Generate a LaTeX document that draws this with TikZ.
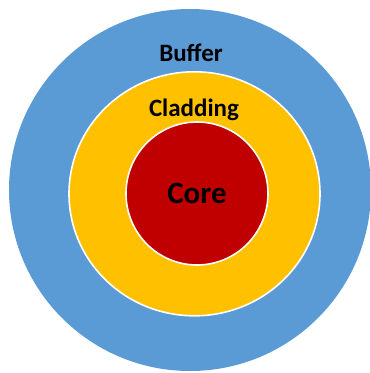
\documentclass[tikz,border=0pt]{standalone}
\usepackage{fontspec}
\setmainfont{Carlito}
\definecolor{bufblue}{HTML}{5B9BD5}
\definecolor{cladyel}{HTML}{FFC000}
\definecolor{corered}{HTML}{C00000}
\tikzset{
  layer/.style={draw=white, line width=1.6pt},
  lbl/.style={font=\bfseries\fontsize{25}{25}\selectfont, text=black, anchor=base, inner sep=0pt},
}
\begin{document}
\begin{tikzpicture}[x=1pt,y=-1pt]
\useasboundingbox (0,0) rectangle (370,373);
\clip (0,0) rectangle (370,373);
\fill[bufblue] (190,190) ellipse [x radius=181, y radius=181];
\filldraw[layer, fill=cladyel] (194.5,193.8) ellipse [x radius=125.5, y radius=122];
\filldraw[layer, fill=corered] (197,193.5) ellipse [x radius=71, y radius=71.5];
\node[lbl] (buffer) at (191,61) {Buffer};
\node[lbl] (cladding) at (194,116.5) {Cladding};
\node[lbl, font=\bfseries\fontsize{31}{31}\selectfont] (core) at (197,203) {Core};
\end{tikzpicture}
\end{document}
